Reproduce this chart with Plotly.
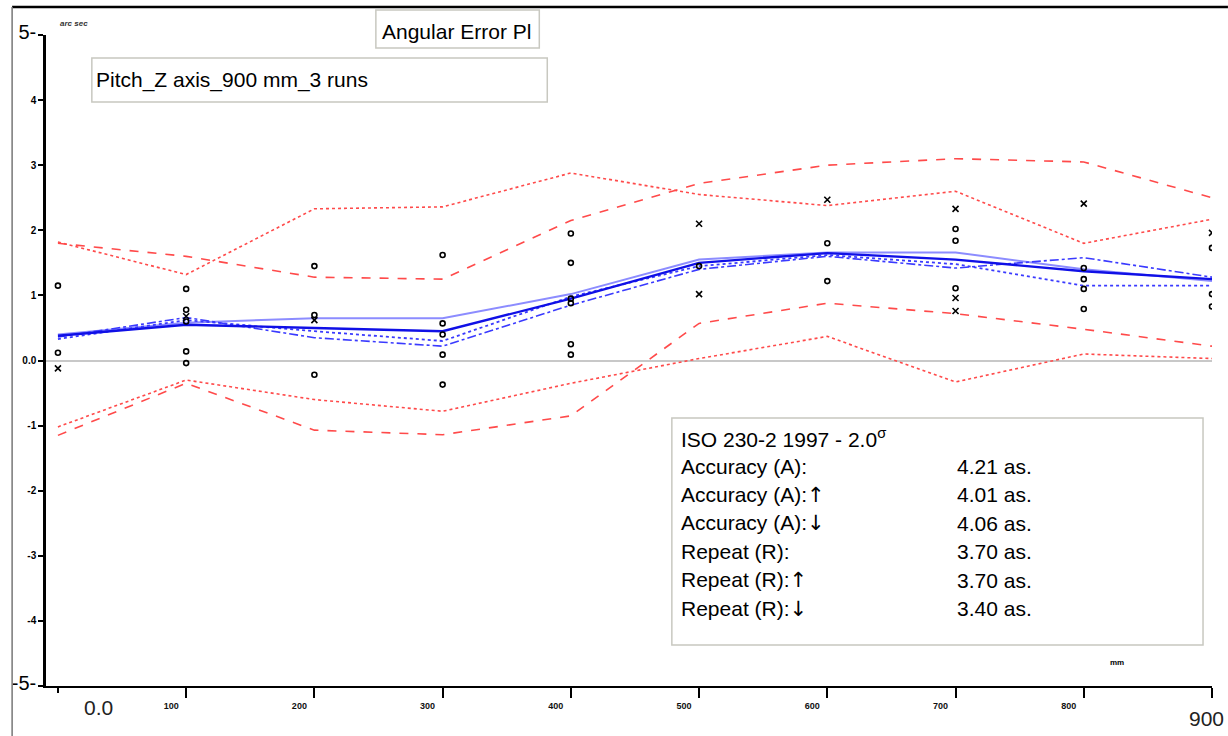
import plotly.graph_objects as go

# ---------------- data ----------------
positions = [0, 100, 200, 300, 400, 500, 600, 700, 800, 900]

mean_dark = [0.38, 0.55, 0.50, 0.45, 0.95, 1.50, 1.65, 1.55, 1.37, 1.25]
mean_light = [0.40, 0.58, 0.65, 0.65, 1.02, 1.55, 1.66, 1.66, 1.40, 1.22]
mean_dot = [0.33, 0.62, 0.45, 0.30, 0.98, 1.45, 1.62, 1.48, 1.15, 1.15]
mean_dashdot = [0.36, 0.66, 0.35, 0.22, 0.85, 1.40, 1.60, 1.42, 1.58, 1.28]

upper_dot = [1.82, 1.32, 2.33, 2.36, 2.88, 2.55, 2.38, 2.60, 1.80, 2.17]
upper_dash = [1.80, 1.60, 1.28, 1.25, 2.15, 2.72, 3.00, 3.10, 3.05, 2.50]
lower_dash = [-1.15, -0.35, -1.07, -1.14, -0.85, 0.57, 0.88, 0.72, 0.48, 0.22]
lower_dot = [-1.02, -0.30, -0.60, -0.78, -0.35, 0.03, 0.37, -0.33, 0.10, 0.03]

x_mark_pos = [0, 100, 200, 500, 500, 600, 700, 700, 700, 800, 900]
x_mark_val = [-0.12, 0.68, 0.62, 2.10, 1.02, 2.47, 2.33, 0.96, 0.76, 2.41, 1.96]
o_mark_pos = [0, 0, 100, 100, 100, 100, 100, 200, 200, 200,
              300, 300, 300, 300, 300, 400, 400, 400, 400, 400, 400,
              500, 600, 600, 700, 700, 700, 800, 800, 800, 800,
              900, 900, 900]
o_mark_val = [0.12, 1.15, 1.10, 0.78, 0.60, 0.14, -0.04, 1.45, 0.70, -0.22,
              1.62, 0.57, 0.40, 0.09, -0.37, 1.95, 1.50, 0.95, 0.88, 0.25, 0.09,
              1.45, 1.80, 1.22, 2.02, 1.84, 1.11, 1.42, 1.25, 1.10, 0.79,
              1.73, 1.02, 0.83]

y_ticks = [-5, -4, -3, -2, -1, 0, 1, 2, 3, 4, 5]
y_ticktext = ['<span style="font-size:20px">-5-</span>', "<b>-4</b>", "<b>-3</b>",
              "<b>-2</b>", "<b>-1</b>", "<b>0.0</b>", "<b>1</b>", "<b>2</b>",
              "<b>3</b>", "<b>4</b>", '<span style="font-size:20px">5-</span>']
x_ticks = [100, 200, 300, 400, 500, 600, 700, 800, 900]
x_ticktext = ["<b>100</b>", "<b>200</b>", "<b>300</b>", "<b>400</b>", "<b>500</b>",
              "<b>600</b>", "<b>700</b>", "<b>800</b>", ""]

UP = '<span style="font-family:DejaVu Sans;color:#000000">↑</span>'
DN = '<span style="font-family:DejaVu Sans;color:#000000">↓</span>'
stats_labels = ["Accuracy (A):", "Accuracy (A):" + UP, "Accuracy (A):" + DN,
                "Repeat (R):", "Repeat (R):" + UP, "Repeat (R):" + DN]
stats_values = ["4.21 as.", "4.01 as.", "4.06 as.", "3.70 as.", "3.70 as.", "3.40 as."]

# ---------------- geometry helpers (pixel -> paper) ----------------
L, R, T, B = 42, 16, 35, 50
W, H = 1228, 736
PW, PH = W - L - R, H - T - B


def px(x):
    return (x - L) / PW


def py(y):
    return (H - B - y) / PH


RED = "#ff4a4a"
FONT = "Liberation Sans, Arial, sans-serif"

fig = go.Figure()


def add_line(vals, color, width, dash):
    fig.add_trace(go.Scatter(x=positions, y=vals, mode="lines",
                             line=dict(color=color, width=width, dash=dash),
                             hoverinfo="skip", showlegend=False))


add_line(upper_dot, RED, 1.6, "dot")
add_line(upper_dash, RED, 1.6, "dash")
add_line(lower_dash, RED, 1.6, "dash")
add_line(lower_dot, RED, 1.6, "dot")

add_line(mean_light, "#8c8cff", 2.0, "solid")
add_line(mean_dashdot, "#3a3aff", 1.6, "dashdot")
add_line(mean_dot, "#3a3aff", 1.8, "dot")
add_line(mean_dark, "#1010e6", 2.4, "solid")

fig.add_trace(go.Scatter(x=x_mark_pos, y=x_mark_val, mode="markers",
                         marker=dict(symbol="x-thin-open", size=6, color="black",
                                     line=dict(color="black", width=1.6)),
                         hoverinfo="skip", showlegend=False))
fig.add_trace(go.Scatter(x=o_mark_pos, y=o_mark_val, mode="markers",
                         marker=dict(symbol="circle-open", size=5, color="black",
                                     line=dict(color="black", width=1.6)),
                         hoverinfo="skip", showlegend=False))

shapes = []
# outer frame: top black line and left grey line
shapes.append(dict(type="line", xref="paper", yref="paper",
                   x0=px(8), x1=px(1228), y0=py(7), y1=py(7),
                   line=dict(color="black", width=2.5)))
shapes.append(dict(type="line", xref="paper", yref="paper",
                   x0=px(8), x1=px(8), y0=py(7), y1=py(736),
                   line=dict(color="#777777", width=1.5)))
# boxes
for (x0, y0, x1, y1) in [(373, 10, 537, 48), (88, 58, 545, 102), (670, 418, 1203, 645)]:
    shapes.append(dict(type="rect", xref="paper", yref="paper",
                       x0=px(x0), x1=px(x1), y0=py(y1), y1=py(y0),
                       line=dict(color="#c8c8c0", width=1.5), fillcolor="white",
                       layer="above"))
# 900 end tick (longer)
shapes.append(dict(type="line", xref="x", yref="paper", x0=900, x1=900,
                   y0=0, y1=py(697), line=dict(color="black", width=2)))

annotations = []


def ann(text, x, y, size, xanchor="left", yanchor="middle", color="black", **kw):
    annotations.append(dict(text=text, x=px(x), y=py(y), xref="paper", yref="paper",
                            showarrow=False, xanchor=xanchor, yanchor=yanchor,
                            font=dict(family=FONT, size=size, color=color), **kw))


ann("<b><i>arc sec</i></b>", 54, 23, 8, color="#333333")
ann("Angular Error Pl", 377, 32, 21)
ann("Pitch_Z axis_900 mm_3 runs", 90, 80, 21)
ann("ISO 230-2 1997 - 2.0<sup>σ</sup>", 677, 438, 21)
for i, (lab, val) in enumerate(zip(stats_labels, stats_values)):
    yy = 466 + i * 28.5
    ann(lab, 677, yy, 21)
    ann(val, 954, yy, 21)
ann("<b>mm</b>", 1108, 662, 8)
ann("0.0", 95, 707, 21, xanchor="center", color="#222222")
ann("900", 1206, 718, 21, xanchor="center", color="#222222")

fig.update_layout(
    width=W, height=H,
    margin=dict(l=L, r=R, t=T, b=B, pad=0),
    paper_bgcolor="white", plot_bgcolor="white",
    font=dict(family=FONT, color="black"),
    shapes=shapes, annotations=annotations,
    xaxis=dict(range=[-9.3, 900], showgrid=False, zeroline=False,
               showline=True, linecolor="black", linewidth=2,
               tickmode="array", tickvals=x_ticks, ticktext=x_ticktext,
               ticks="outside", ticklen=10, tickwidth=2, tickcolor="black",
               ticklabelshift=-15, ticklabelstandoff=0,
               tickfont=dict(size=9, color="#111111"),
               minor=dict(tickmode="array", tickvals=[0], ticks="outside",
                          ticklen=5, tickwidth=2, tickcolor="black")),
    yaxis=dict(range=[-5, 5], showgrid=False,
               zeroline=True, zerolinecolor="#c8c8c8", zerolinewidth=2,
               showline=True, linecolor="black", linewidth=2.5,
               tickmode="array", tickvals=y_ticks, ticktext=y_ticktext,
               ticks="outside", ticklen=5, tickwidth=1.5, tickcolor="black",
               tickfont=dict(size=10, color="black")),
)

fig.write_html("out.html")
